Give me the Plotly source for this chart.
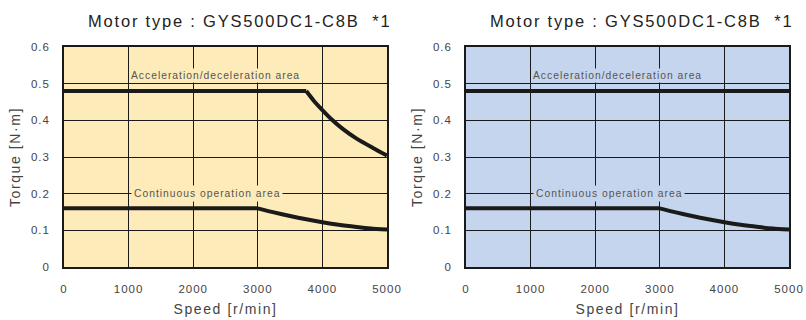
import plotly.graph_objects as go
from plotly.subplots import make_subplots

# Data
titles = ["Motor type : GYS500DC1-C8B  *1", "Motor type : GYS500DC1-C8B  *1"]
accel_speed_left = [0, 3750, 3860, 4000, 4140, 4320, 4530, 4790, 5000]
accel_torque_left = [0.48, 0.48, 0.455, 0.428, 0.403, 0.376, 0.350, 0.324, 0.304]
accel_speed_right = [0, 5000]
accel_torque_right = [0.48, 0.48]
cont_speed = [0, 3000, 3250, 3500, 3750, 4000, 4250, 4530, 4750, 5000]
cont_torque = [0.16, 0.16, 0.149, 0.139, 0.13, 0.122, 0.115, 0.109, 0.105, 0.102]
x_ticks = [0, 1000, 2000, 3000, 4000, 5000]
x_tick_text = ["0", "1000", "2000", "3000", "4000", "5000"]
y_ticks = [0, 0.1, 0.2, 0.3, 0.4, 0.5, 0.6]
y_tick_text = ["0", "0.1", "0.2", "0.3", "0.4", "0.5", "0.6"]
bg_colors = ["#FDEBB9", "#C6D5EE"]

FONT = "Liberation Sans"
LINE = dict(color="#1a1a1a", width=4)


def sp(text, px):
    return '<span style="letter-spacing:%spx">%s</span>' % (px, text)


def add_curve(fig, xs, ys, col):
    # flat segment (first two points) drawn straight, remaining part smoothed
    fig.add_trace(go.Scatter(x=xs[:2], y=ys[:2], mode="lines", line=LINE, showlegend=False, hoverinfo="skip"),
                  row=1, col=col)
    if len(xs) > 2:
        fig.add_trace(go.Scatter(x=xs[1:], y=ys[1:], mode="lines",
                                 line=dict(LINE, shape="spline", smoothing=0.6),
                                 showlegend=False, hoverinfo="skip"), row=1, col=col)


fig = make_subplots(rows=1, cols=2)

accels = [(accel_speed_left, accel_torque_left), (accel_speed_right, accel_torque_right)]
for i in range(2):
    ax, at = accels[i]
    add_curve(fig, ax, at, i + 1)
    add_curve(fig, cont_speed, cont_torque, i + 1)

xdoms = [[64 / 806, 387 / 806], [466 / 806, 789 / 806]]
ydom = [53 / 320, 273 / 320]
for i in range(2):
    xa = "xaxis" if i == 0 else "xaxis2"
    ya = "yaxis" if i == 0 else "yaxis2"
    fig.layout[xa].update(domain=xdoms[i], range=[0, 5000], tickvals=x_ticks,
                          ticktext=[sp(t, 1.0) for t in x_tick_text], showgrid=True, gridcolor="#1a1a1a",
                          gridwidth=1, showline=True, mirror=True, linecolor="#1a1a1a", linewidth=1.6, zeroline=False,
                          ticks="", ticklabelstandoff=10, automargin=False,
                          tickfont=dict(family=FONT, size=11.5, color="#444444"),
                          title=dict(text=sp("Speed [r/min]", 1.6), font=dict(family=FONT, size=14, color="#444444"),
                                     standoff=11))
    fig.layout[ya].update(domain=ydom, range=[0, 0.6], tickvals=y_ticks, ticktext=[sp(t, 1.0) for t in y_tick_text],
                          showgrid=True,
                          gridcolor="#1a1a1a", gridwidth=1, showline=True, mirror=True, linecolor="#1a1a1a",
                          linewidth=1.6, zeroline=False, ticks="", ticklabelstandoff=10, automargin=False,
                          tickfont=dict(family=FONT, size=11.5, color="#444444"),
                          title=dict(text=sp("Torque [N·m]", 1.6), font=dict(family=FONT, size=14, color="#444444"),
                                     standoff=7))

shapes = []
annotations = []
for i in range(2):
    xr = "x" if i == 0 else "x2"
    yr = "y" if i == 0 else "y2"
    shapes.append(dict(type="rect", xref=xr + " domain", yref=yr + " domain", x0=0, x1=1, y0=0, y1=1,
                       fillcolor=bg_colors[i], line=dict(width=0), layer="below"))
    annotations.append(dict(text=sp(titles[i], 1.8), xref="paper", yref="paper",
                            x=xdoms[i][1] + 6 / 806, y=(320 - 21) / 320, xanchor="right", yanchor="middle",
                            showarrow=False, font=dict(family=FONT, size=16.5, color="#222222")))
    annotations.append(dict(text=sp("Acceleration/deceleration area", 1.0), xref=xr, yref=yr, x=2350, y=0.523,
                            showarrow=False, bgcolor=bg_colors[i], borderpad=1,
                            font=dict(family=FONT, size=10.3, color="#555555")))
    annotations.append(dict(text=sp("Continuous operation area", 1.0), xref=xr, yref=yr, x=2210, y=0.2,
                            showarrow=False, bgcolor=bg_colors[i], borderpad=2,
                            font=dict(family=FONT, size=10.3, color="#555555")))

fig.update_layout(width=806, height=320, margin=dict(l=0, r=0, t=0, b=0), paper_bgcolor="white",
                  plot_bgcolor="rgba(0,0,0,0)", shapes=shapes, annotations=annotations, showlegend=False)

fig.write_html("out.html", config={"displayModeBar": False},
               post_script="document.body.style.margin='0px';document.body.style.overflow='hidden';")
